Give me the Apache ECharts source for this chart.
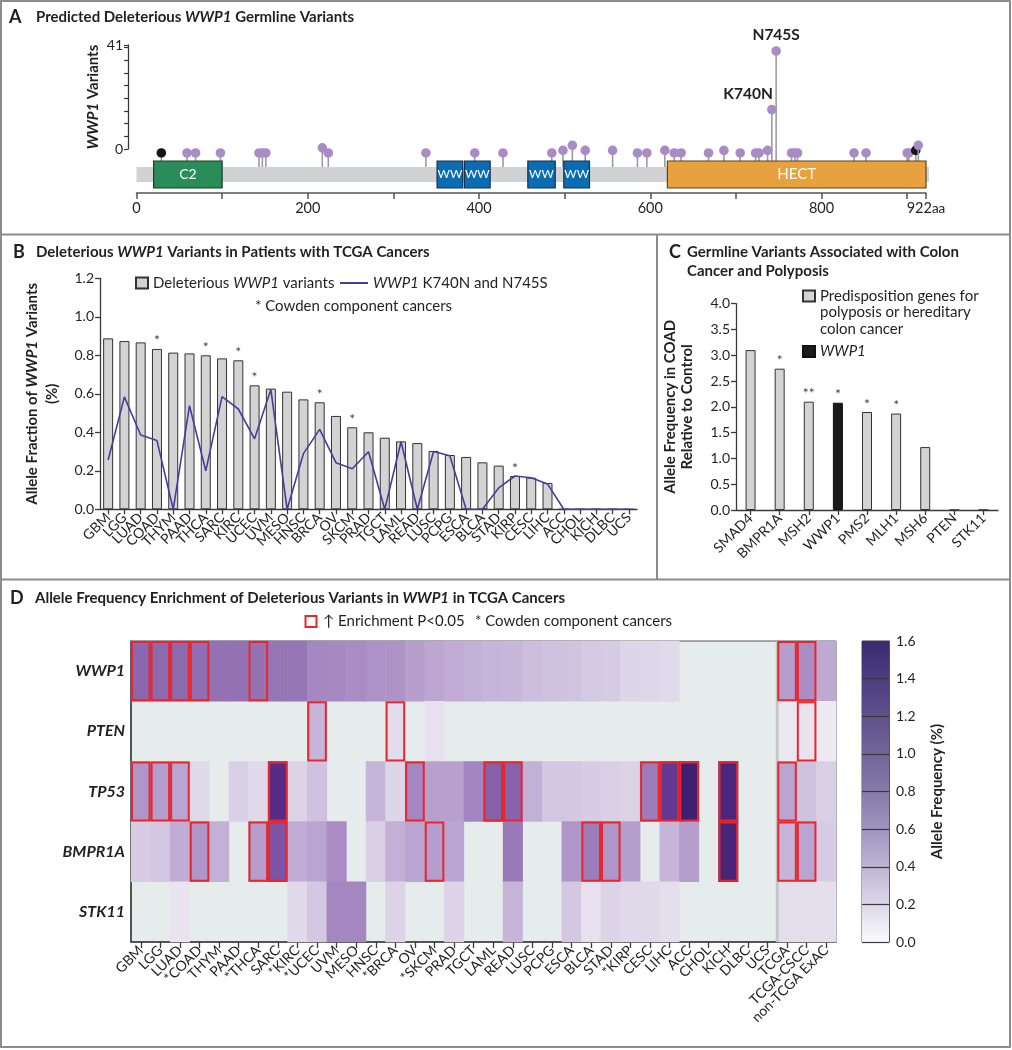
<!DOCTYPE html>
<html><head><meta charset="utf-8">
<script src="https://cdn.jsdelivr.net/npm/echarts@6/dist/echarts.min.js"></script>
<style>html,body{margin:0;padding:0;background:#fff}#c{width:1012px;height:1050px}</style>
</head><body><div id="c"></div><script>
// ---------------- DATA ----------------
// Panel A: WWP1 protein, domains and germline variants
const proteinLength = 922;
const domainName  = ['C2', 'WW', 'WW', 'WW', 'WW', 'HECT'];
const domainStart = [20, 351, 383, 457, 499, 620];
const domainEnd   = [100, 381, 413, 489, 529, 922];
const variantPos   = [29, 59, 69, 98, 143, 147, 151, 217, 224, 338, 395, 428, 485, 498, 509, 524, 556, 585, 596, 617, 628, 636, 668, 686, 705, 723, 727, 737, 742, 747, 765, 769, 772, 838, 852, 900, 902, 910, 913];
const variantCount = [1, 1, 1, 1, 1, 1, 1, 3, 1, 1, 1, 1, 1, 2, 4, 2, 2, 1, 1, 2, 1, 1, 1, 2, 1, 1, 1, 2, 18, 41, 1, 1, 1, 1, 1, 1, 1, 2, 4];
const variantType  = ['truncating', 'missense', 'missense', 'missense', 'missense', 'missense', 'missense', 'missense', 'missense', 'missense', 'missense', 'missense', 'missense', 'missense', 'missense', 'missense', 'missense', 'missense', 'missense', 'missense', 'missense', 'missense', 'missense', 'missense', 'missense', 'missense', 'missense', 'missense', 'missense', 'missense', 'missense', 'missense', 'missense', 'missense', 'missense', 'missense', 'missense', 'truncating', 'missense'];
const variantLabel = ['', '', '', '', '', '', '', '', '', '', '', '', '', '', '', '', '', '', '', '', '', '', '', '', '', '', '', '', 'K740N', 'N745S', '', '', '', '', '', '', '', '', ''];
const variantAxisTicks = [0, 5, 10, 15, 20, 25, 30, 35, 40, 41];
const variantAxisLabels = [0, 41];
const proteinTicks = [0, 100, 200, 300, 400, 500, 600, 700, 800, 900, 922];
const proteinLabels = [0, 200, 400, 600, 800, 922];

// Panel B: TCGA cancers
const tcgaCancers = ['GBM','LGG','LUAD','COAD','THYM','PAAD','THCA','SARC','KIRC','UCEC','UVM','MESO','HNSC','BRCA','OV','SKCM','PRAD','TGCT','LAML','READ','LUSC','PCPG','ESCA','BLCA','STAD','KIRP','CESC','LIHC','ACC','CHOL','KICH','DLBC','UCS'];
const wwp1Fraction    = [0.888,0.874,0.867,0.833,0.814,0.810,0.800,0.784,0.774,0.644,0.627,0.611,0.571,0.556,0.485,0.426,0.400,0.372,0.353,0.344,0.303,0.282,0.272,0.244,0.227,0.173,0.164,0.137,0,0,0,0,0];
const hotspotFraction = [0.256,0.584,0.386,0.357,0,0.538,0.200,0.585,0.521,0.366,0.622,0,0.289,0.415,0.242,0.211,0.299,0,0.351,0,0.300,0.278,0,0,0.111,0.173,0.164,0.132,0,0,0,0,0];
const cowdenCancers = ['COAD','THCA','KIRC','UCEC','BRCA','SKCM','KIRP'];

// Panel C: colon cancer predisposition genes
const colonGenes = ['SMAD4','BMPR1A','MSH2','WWP1','PMS2','MLH1','MSH6','PTEN','STK11'];
const colonRatio = [3.10, 2.74, 2.10, 2.08, 1.90, 1.87, 1.22, 0, 0];
const colonStars = ['', '*', '**', '*', '*', '*', '', '', ''];

// Panel D: heatmap (null = no deleterious variants)
const heatCols = ['GBM','LGG','LUAD','COAD','THYM','PAAD','THCA','SARC','KIRC','UCEC','UVM','MESO','HNSC','BRCA','OV','SKCM','PRAD','TGCT','LAML','READ','LUSC','PCPG','ESCA','BLCA','STAD','KIRP','CESC','LIHC','ACC','CHOL','KICH','DLBC','UCS','TCGA','TCGA-CSCC','non-TCGA ExAC'];
const heatRows = ['WWP1','PTEN','TP53','BMPR1A','STK11'];
const heatWWP1   = [0.89,0.87,0.87,0.83,0.81,0.81,0.80,0.78,0.77,0.64,0.63,0.61,0.57,0.56,0.49,0.43,0.40,0.37,0.35,0.34,0.30,0.28,0.27,0.24,0.23,0.17,0.16,0.14,null,null,null,null,null,0.50,0.60,0.42];
const heatPTEN   = [null,null,null,null,null,null,null,null,null,0.35,null,null,null,0.13,null,0.10,null,null,null,null,null,null,null,null,null,null,null,null,null,null,null,null,null,0.06,0.09,0.05];
const heatTP53   = [0.55,0.50,0.45,0.15,null,0.20,0.15,1.42,0.18,0.28,null,null,0.35,0.17,0.64,0.48,0.48,0.66,0.95,0.93,0.38,0.25,0.25,0.22,0.20,0.18,0.72,1.30,1.58,null,1.50,null,null,0.45,0.28,0.20];
const heatBMPR1A = [0.22,0.25,0.40,0.55,0.38,null,0.50,1.05,0.40,0.45,0.60,null,0.20,0.38,0.45,0.50,0.45,null,null,0.75,null,null,0.55,0.72,0.55,0.50,null,0.35,0.50,null,1.52,null,null,0.35,0.45,0.22];
const heatSTK11  = [null,null,0.08,null,null,null,null,null,0.15,0.25,0.65,0.65,null,0.18,null,null,0.18,null,null,0.35,null,null,0.25,0.10,0.18,0.15,0.15,0.12,null,null,null,null,null,0.12,0.12,0.12];
const sigWWP1   = ['GBM','LGG','LUAD','COAD','THCA','TCGA','TCGA-CSCC'];
const sigPTEN   = ['UCEC','BRCA','TCGA-CSCC'];
const sigTP53   = ['GBM','LGG','LUAD','SARC','OV','LAML','READ','CESC','LIHC','ACC','KICH','TCGA'];
const sigBMPR1A = ['COAD','THCA','SARC','SKCM','BLCA','STAD','KICH','TCGA','TCGA-CSCC'];
const sigSTK11  = [];
const pooledStart = 'TCGA';

// ---------------- STYLE ----------------
const FONT = 'Lato, "Open Sans", sans-serif';
const TXT = '#231f20';
const AX = '#3a3a3a';
const heatPalette = ['#f4f2f8','#d9d0e5','#c0acd5','#a98dc4','#9472b3','#815aa6','#6e4398','#5a2d8a','#3a1f6e'];
const barPalette  = ['#fbfbfd','#dcd8e8','#bdb5d4','#9e95bf','#857ba9','#716698','#5f518d','#4c3d80','#3a2a72'];
const domainColor = {C2:'#2a8c58', WW:'#0a6cb2', HECT:'#e7a13f'};
const domainBorder = {C2:'#1d3d2a', WW:'#17324f', HECT:'#5b4420'};
const domainFont = {C2:'14px ', WW:'12px ', HECT:'15px '};

const cowdenSet = new Set(cowdenCancers);
const heatData = [];
[heatWWP1, heatPTEN, heatTP53, heatBMPR1A, heatSTK11].forEach((row, r) =>
  row.forEach((v, c) => { if (v != null) heatData.push([c, r, v]); }));
const sigData = [];
[sigWWP1, sigPTEN, sigTP53, sigBMPR1A, sigSTK11].forEach((list, r) =>
  list.forEach(name => sigData.push([heatCols.indexOf(name), r])));

const axLine = {show:true, onZero:false, lineStyle:{color:AX, width:1.3}};
const axTick = {show:true, length:5, lineStyle:{color:AX, width:1.3}};
const lab = (extra) => Object.assign({color:TXT, fontSize:14, fontFamily:FONT}, extra || {});

const chart = echarts.init(document.getElementById('c'), null, {renderer:'canvas'});

const option = {
  animation: false,
  textStyle: {fontFamily: FONT, color: TXT},
  grid: [
    {left:136.5, top:51, width:789.5, height:104.5},
    {left:128, top:45, width:5, height:104},
    {left:100, top:278.3, width:537, height:231},
    {left:736, top:303.7, width:262, height:206.3},
    {left:131, top:641, width:705, height:301, show:true, backgroundColor:'#e6ebeb', borderColor:'#555', borderWidth:1},
    {left:862, top:641, width:27, height:301, show:true, borderColor:'#555', borderWidth:1}
  ],
  xAxis: [
    {gridIndex:0, type:'value', min:0, max:proteinLength, offset:37.5, splitLine:{show:false},
     axisLine:{show:true, onZero:false, lineStyle:{color:'#555', width:1.5}},
     axisTick:{show:true, customValues:proteinTicks, length:6, lineStyle:{color:'#555', width:1.5}},
     axisLabel:lab({customValues:proteinLabels, fontSize:14.5, margin:8,
       formatter: v => v === proteinLength ? v + '{s|aa}' : String(v), rich:{s:{fontSize:13.5, fontFamily:FONT, color:TXT}}})},
    {gridIndex:1, type:'value', show:false},
    {gridIndex:2, type:'category', data:tcgaCancers, axisLine:axLine,
     axisTick:Object.assign({alignWithLabel:true}, axTick), axisLabel:lab({rotate:45, interval:0, margin:6})},
    {gridIndex:3, type:'category', data:colonGenes, axisLine:axLine,
     axisTick:Object.assign({alignWithLabel:true}, axTick), axisLabel:lab({rotate:45, interval:0, margin:6})},
    {gridIndex:4, type:'category', data:heatCols, axisLine:{show:true, lineStyle:{color:AX, width:1.5}},
     axisTick:{show:true, alignWithLabel:true, length:6, lineStyle:{color:AX, width:1.3}},
     axisLabel:lab({rotate:45, interval:0, margin:6, formatter: v => (cowdenSet.has(v) ? '*' : '') + v})},
    {gridIndex:5, type:'category', data:['scale'], show:false}
  ],
  yAxis: [
    {gridIndex:0, type:'value', min:0, max:41, show:false},
    {gridIndex:1, type:'value', min:0, max:41, splitLine:{show:false}, axisLine:axLine,
     axisTick:{show:true, length:4, customValues:variantAxisTicks, lineStyle:{color:AX, width:1.2}},
     axisLabel:lab({customValues:variantAxisLabels, margin:5}),
     name:'{i|WWP1} Variants', nameLocation:'middle', nameGap:27,
     nameTextStyle:{fontSize:15, fontWeight:'bold', color:TXT, fontFamily:FONT,
       rich:{i:{fontSize:15, fontWeight:'bold', fontStyle:'italic', color:TXT, fontFamily:FONT}}}},
    {gridIndex:2, type:'value', min:0, max:1.2, interval:0.2, splitLine:{show:false}, axisLine:axLine, axisTick:axTick,
     axisLabel:lab({margin:6, formatter: v => v.toFixed(1)}),
     name:'Allele Fraction of {i|WWP1} Variants\n(%)', nameLocation:'middle', nameGap:38,
     nameTextStyle:{fontSize:15, fontWeight:'bold', color:TXT, lineHeight:20, fontFamily:FONT,
       rich:{i:{fontSize:15, fontWeight:'bold', fontStyle:'italic', color:TXT, lineHeight:20, fontFamily:FONT}}}},
    {gridIndex:3, type:'value', min:0, max:4, interval:0.5, splitLine:{show:false}, axisLine:axLine, axisTick:axTick,
     axisLabel:lab({margin:6, formatter: v => v.toFixed(1)}),
     name:'Allele Frequency in COAD\nRelative to Control', nameLocation:'middle', nameGap:40,
     nameTextStyle:{fontSize:15, fontWeight:'bold', color:TXT, lineHeight:17, fontFamily:FONT}},
    {gridIndex:4, type:'category', data:heatRows, inverse:true,
     axisLine:{show:true, lineStyle:{color:AX, width:1.5}}, axisTick:{show:false},
     axisLabel:lab({fontSize:16, fontWeight:'bold', fontStyle:'italic', margin:6})},
    {gridIndex:5, type:'value', min:0, max:1.6, interval:0.2, position:'right', z:5,
     axisLine:{show:true, lineStyle:{color:'#555'}}, axisTick:{show:false},
     splitLine:{show:true, lineStyle:{color:'#3a3a3a', width:1.2}},
     axisLabel:lab({margin:7, formatter: v => v.toFixed(1)}),
     name:'Allele Frequency (%)', nameLocation:'middle', nameGap:41,
     nameTextStyle:{fontSize:15, fontWeight:'bold', color:TXT, fontFamily:FONT}}
  ],
  visualMap: [{type:'continuous', show:false, min:0, max:1.6, seriesIndex:6, inRange:{color:heatPalette}}],
  legend: [
    {left:135, top:275, padding:0, itemWidth:12, itemHeight:11, selectedMode:false,
     data:[{name:'Deleterious WWP1 variants', icon:'rect'}],
     formatter: () => 'Deleterious {i|WWP1} variants',
     textStyle:{fontSize:15, color:TXT, lineHeight:16, fontFamily:FONT, rich:{i:{fontSize:15, fontStyle:'italic', fontFamily:FONT, color:TXT}}}},
    {left:340, top:275, padding:0, itemWidth:28, itemHeight:2, selectedMode:false,
     data:[{name:'WWP1 K740N and N745S', icon:'rect'}],
     formatter: () => '{i|WWP1} K740N and N745S',
     textStyle:{fontSize:15, color:TXT, lineHeight:16, fontFamily:FONT, rich:{i:{fontSize:15, fontStyle:'italic', fontFamily:FONT, color:TXT}}}},
    {left:802, top:254.75, padding:0, itemWidth:12, itemHeight:11, selectedMode:false, itemGap:4,
     data:[{name:'Predisposition genes for polyposis or hereditary colon cancer', icon:'rect'}],
     formatter: () => '\n\nPredisposition genes for\npolyposis or hereditary\ncolon cancer',
     textStyle:{fontSize:15, color:TXT, lineHeight:16.5, fontFamily:FONT}},
    {left:802, top:343.5, padding:0, itemWidth:12, itemHeight:11, selectedMode:false, itemGap:4,
     data:[{name:'WWP1', icon:'rect'}],
     formatter: () => '{i|WWP1}',
     textStyle:{fontSize:15, color:TXT, lineHeight:16, fontFamily:FONT, rich:{i:{fontSize:15, fontStyle:'italic', fontFamily:FONT, color:TXT}}}}
  ],
  graphic: [
    {type:'rect', silent:true, shape:{x:1, y:1, width:1009, height:1046}, style:{fill:'none', stroke:'#8c8c8c', lineWidth:2}},
    {type:'line', silent:true, shape:{x1:0, y1:234.5, x2:1011, y2:234.5}, style:{stroke:'#8c8c8c', lineWidth:2}},
    {type:'line', silent:true, shape:{x1:0, y1:579.5, x2:1011, y2:579.5}, style:{stroke:'#8c8c8c', lineWidth:2}},
    {type:'line', silent:true, shape:{x1:657, y1:234.5, x2:657, y2:579.5}, style:{stroke:'#8c8c8c', lineWidth:2}},
    {type:'text', silent:true, style:{x:9, y:17, text:'A', font:'bold 18px ' + FONT, fill:TXT, verticalAlign:'middle'}},
    {type:'text', silent:true, style:{x:36, y:17, text:'Predicted Deleterious {i|WWP1} Germline Variants', font:'bold 15px ' + FONT, fill:TXT, verticalAlign:'middle',
      rich:{i:{font:'italic bold 15px ' + FONT, fill:TXT}}}},
    {type:'text', silent:true, style:{x:13, y:252, text:'B', font:'bold 18px ' + FONT, fill:TXT, verticalAlign:'middle'}},
    {type:'text', silent:true, style:{x:36, y:252, text:'Deleterious {i|WWP1} Variants in Patients with TCGA Cancers', font:'bold 15px ' + FONT, fill:TXT, verticalAlign:'middle',
      rich:{i:{font:'italic bold 15px ' + FONT, fill:TXT}}}},
    {type:'text', silent:true, style:{x:255, y:306, text:'* Cowden component cancers', font:'15px ' + FONT, fill:TXT, verticalAlign:'middle'}},
    {type:'text', silent:true, style:{x:669, y:252, text:'C', font:'bold 18px ' + FONT, fill:TXT, verticalAlign:'middle'}},
    {type:'text', silent:true, style:{x:687, y:242.5, text:'Germline Variants Associated with Colon\nCancer and Polyposis', font:'bold 15px ' + FONT, fill:TXT, verticalAlign:'top', lineHeight:19}},
    {type:'text', silent:true, style:{x:10, y:598, text:'D', font:'bold 18px ' + FONT, fill:TXT, verticalAlign:'middle'}},
    {type:'text', silent:true, style:{x:35, y:598, text:'Allele Frequency Enrichment of Deleterious Variants in {i|WWP1} in TCGA Cancers', font:'bold 15px ' + FONT, fill:TXT, verticalAlign:'middle',
      rich:{i:{font:'italic bold 15px ' + FONT, fill:TXT}}}},
    {type:'rect', silent:true, shape:{x:305.5, y:616, width:11, height:11}, style:{fill:'none', stroke:'#e8262b', lineWidth:2}},
    {type:'text', silent:true, style:{x:323, y:621.5, text:'\u2191 Enrichment P<0.05', font:'15px ' + FONT, fill:TXT, verticalAlign:'middle'}},
    {type:'text', silent:true, style:{x:475, y:621.5, text:'* Cowden component cancers', font:'15px ' + FONT, fill:TXT, verticalAlign:'middle'}}
  ],
  series: [
    // 0 lollipops
    {type:'custom', name:'variants', xAxisIndex:0, yAxisIndex:0, clip:false, z:2, silent:true,
     data: variantPos.map((p, i) => [p, variantCount[i], i]),
     renderItem: (params, api) => {
       const i = api.value(2);
       const head = api.coord([api.value(0), api.value(1)]);
       const base = api.coord([api.value(0), 0]);
       const children = [
         {type:'line', shape:{x1:head[0], y1:base[1] + 14, x2:head[0], y2:head[1]}, style:{stroke:'#9b9b9b', lineWidth:1.6}},
         {type:'circle', shape:{cx:head[0], cy:head[1], r:4.8}, style:{fill: variantType[i] === 'truncating' ? '#151515' : '#a98bc6'}}
       ];
       const t = variantLabel[i];
       if (t) {
         const right = t === 'K740N';
         children.push({type:'text', style:{text:t, x: right ? head[0] + 1 : head[0], y: head[1] - 8,
           align: right ? 'right' : 'center', verticalAlign:'bottom', font:'bold 15.5px ' + FONT, fill:TXT}});
       }
       return {type:'group', children};
     }},
    // 1 protein track with domains
    {type:'custom', name:'protein', xAxisIndex:0, yAxisIndex:0, clip:false, z:3, silent:true,
     data: [[0, proteinLength, -1]].concat(domainName.map((d, i) => [domainStart[i], domainEnd[i], i])),
     renderItem: (params, api) => {
       const s = api.coord([api.value(0), 0]);
       const e = api.coord([api.value(1), 0]);
       const i = api.value(2);
       if (i < 0) {
         return {type:'rect', shape:{x:s[0], y:s[1] + 11.5, width:e[0] - s[0] + 3, height:15}, style:{fill:'#d1d2d4'}};
       }
       const n = domainName[i];
       return {type:'group', children:[
         {type:'rect', shape:{x:s[0], y:s[1] + 5.5, width:e[0] - s[0], height:27}, style:{fill:domainColor[n], stroke:domainBorder[n], lineWidth:1.2}},
         {type:'text', style:{text:n, x:(s[0] + e[0]) / 2, y:s[1] + 19, align:'center', verticalAlign:'middle',
           font:domainFont[n] + FONT, fill:'#ffffff'}}
       ]};
     }},
    // 2 panel B bars
    {type:'bar', name:'Deleterious WWP1 variants', xAxisIndex:2, yAxisIndex:2, data:wwp1Fraction, barWidth:10,
     itemStyle:{color:'#d3d3d3', borderColor:'#333', borderWidth:1},
     label:{show:true, position:'top', distance:1, fontSize:14, color:'#444', fontFamily:FONT,
       formatter: p => cowdenSet.has(p.name) ? '*' : ''}},
    // 3 panel B hotspot line
    {type:'line', name:'WWP1 K740N and N745S', xAxisIndex:2, yAxisIndex:2, data:hotspotFraction, symbol:'none',
     color:'#4b3b9c', lineStyle:{color:'#4b3b9c', width:1.6}, z:4},
    // 4 panel C grey bars
    {type:'bar', name:'Predisposition genes for polyposis or hereditary colon cancer', xAxisIndex:3, yAxisIndex:3, stack:'c', barWidth:10,
     data: colonRatio.map((v, i) => colonGenes[i] === 'WWP1' ? '-' : v),
     itemStyle:{color:'#d3d3d3', borderColor:'#333', borderWidth:1},
     label:{show:true, position:'top', distance:1, fontSize:14, color:'#444', fontFamily:FONT, formatter: p => colonStars[p.dataIndex]}},
    // 5 panel C WWP1 bar
    {type:'bar', name:'WWP1', xAxisIndex:3, yAxisIndex:3, stack:'c', barWidth:10,
     data: colonRatio.map((v, i) => colonGenes[i] === 'WWP1' ? v : '-'),
     itemStyle:{color:'#1b1a1a', borderColor:'#111', borderWidth:1},
     label:{show:true, position:'top', distance:1, fontSize:14, color:'#444', fontFamily:FONT, formatter: p => colonStars[p.dataIndex]}},
    // 6 heatmap
    {type:'heatmap', name:'allele frequency', xAxisIndex:4, yAxisIndex:4, data:heatData, silent:true,
     itemStyle:{borderWidth:0}, emphasis:{disabled:true}},
    // 7 separator between cancers and pooled cohorts
    {type:'custom', xAxisIndex:4, yAxisIndex:4, silent:true, z:3,
     data:[[heatCols.indexOf(pooledStart), 0]],
     renderItem: (params, api) => {
       const c = api.coord([api.value(0), 0]);
       const sz = api.size([1, 1]);
       const bottom = api.coord([api.value(0), heatRows.length - 1]);
       const x = c[0] - sz[0] / 2;
       return {type:'line', shape:{x1:x, y1:c[1] - sz[1] / 2, x2:x, y2:bottom[1] + sz[1] / 2}, style:{stroke:'#c3c7c7', lineWidth:3}};
     }},
    // 8 significance boxes
    {type:'custom', name:'Enrichment P<0.05', xAxisIndex:4, yAxisIndex:4, silent:true, z:4, data:sigData,
     renderItem: (params, api) => {
       const c = api.coord([api.value(0), api.value(1)]);
       const sz = api.size([1, 1]);
       return {type:'rect', shape:{x:c[0] - sz[0] / 2 + 1, y:c[1] - sz[1] / 2 + 1, width:sz[0] - 2, height:sz[1] - 2},
         style:{fill:'none', stroke:'#e8262b', lineWidth:2}};
     }},
    // 9 colour scale bar
    {type:'bar', xAxisIndex:5, yAxisIndex:5, data:[1.6], barWidth:'100%', silent:true, z:1,
     itemStyle:{color:new echarts.graphic.LinearGradient(0, 1, 0, 0, barPalette.map((c, i) => ({offset:i / (barPalette.length - 1), color:c})))}}
  ]
};
chart.setOption(option);
</script></body></html>
